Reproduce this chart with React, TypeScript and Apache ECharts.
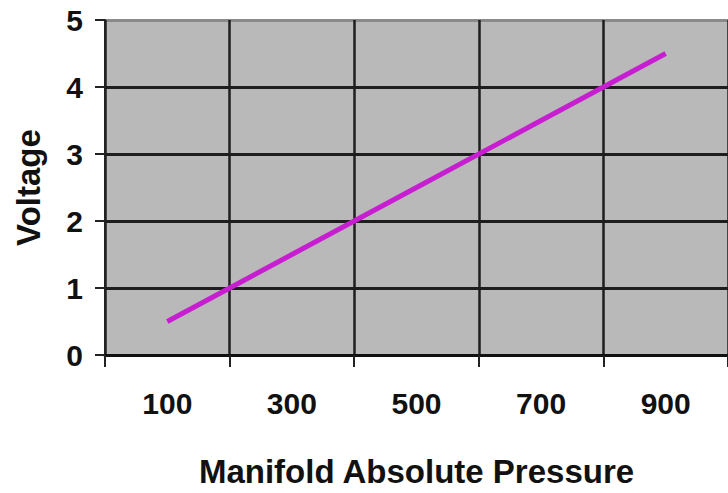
import React, { useEffect, useRef } from "react";
import * as echarts from "echarts";

const categories = ["100", "300", "500", "700", "900"];
const voltage = [0.5, 1.5, 2.5, 3.5, 4.5];
const yTicks = { min: 0, max: 5, interval: 1 };

export default function App() {
  const ref = useRef<HTMLDivElement>(null);
  useEffect(() => {
    const chart = echarts.init(ref.current!, null, { renderer: "svg" });
    const font = "'Liberation Sans', Arial, sans-serif";
    chart.setOption({
      animation: false,
      backgroundColor: "#ffffff",
      grid: {
        left: 105,
        top: 20,
        right: -4,
        bottom: 138,
        show: true,
        backgroundColor: "#b9b9b9",
        borderWidth: 0,
      },
      xAxis: {
        type: "category",
        data: categories,
        boundaryGap: true,
        name: "Manifold Absolute Pressure",
        nameLocation: "middle",
        nameGap: 100,
        nameTextStyle: { fontFamily: font, fontWeight: "bold", fontSize: 33, color: "#111" },
        axisLine: { show: true, lineStyle: { color: "#111", width: 3 } },
        axisTick: { show: true, length: 12, lineStyle: { color: "#222", width: 2 }, interval: 0 },
        axisLabel: { margin: 33, fontFamily: font, fontWeight: "bold", fontSize: 30, color: "#111", interval: 0 },
        splitLine: { show: true, interval: 0, lineStyle: { color: "#1e1e1e", width: 2.5 } },
      },
      yAxis: {
        type: "value",
        min: yTicks.min,
        max: yTicks.max,
        interval: yTicks.interval,
        name: "Voltage",
        nameLocation: "middle",
        nameGap: 60,
        nameRotate: 90,
        nameTextStyle: { fontFamily: font, fontWeight: "bold", fontSize: 33, color: "#111" },
        axisLine: { show: true, lineStyle: { color: "#222", width: 2 } },
        axisTick: { show: true, length: 10, lineStyle: { color: "#222", width: 2 } },
        axisLabel: { margin: 22, fontFamily: font, fontWeight: "bold", fontSize: 30, color: "#111" },
        splitLine: {
          show: true,
          lineStyle: { color: ["#1e1e1e", "#1e1e1e", "#1e1e1e", "#1e1e1e", "#1e1e1e", "#8a8a8a"], width: 3 },
        },
      },
      series: [
        {
          type: "line",
          data: voltage,
          showSymbol: false,
          symbol: "none",
          lineStyle: { color: "#c81ed2", width: 5 },
        },
      ],
    });
    return () => chart.dispose();
  }, []);
  return <div ref={ref} style={{ width: 728, height: 493, position: "absolute", left: 0, top: 0 }} />;
}
